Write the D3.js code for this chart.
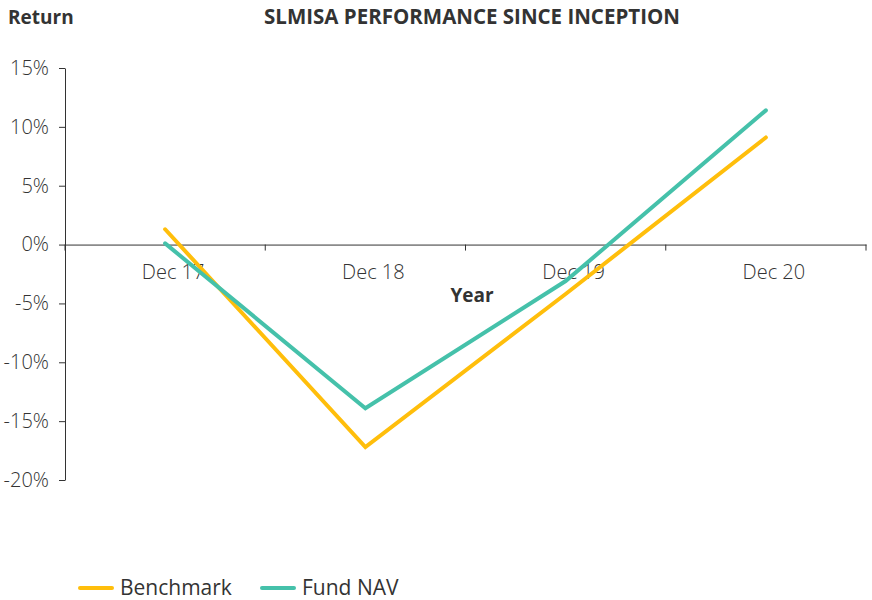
<!DOCTYPE html>
<html>
<head>
<meta charset="utf-8">
<script src="https://cdn.jsdelivr.net/npm/d3@7"></script>
<style>
body { margin: 0; background: #fff; }
text { font-family: "Open Sans", sans-serif; fill: #333; }
</style>
</head>
<body>
<div class="chart"></div>
<script>
var width = 872;
var height = 600;

// values
var years = ["Dec 17", "Dec 18", "Dec 19", "Dec 20"];
var benchmark = [1.3, -17.2, -4.2, 9.1];
var fundNav = [0.1, -13.9, -3.1, 11.4];
var yTicks = [15, 10, 5, 0, -5, -10, -15, -20];

var series = [
	{ name: "Benchmark", values: benchmark, color: "#FFBE0B" },
	{ name: "Fund NAV", values: fundNav, color: "#45C1AA" }
];

var margin = { left: 65, right: 6, top: 68, bottom: 120 };

var svg = d3.select(".chart")
	.append("svg")
	.attr("width", width)
	.attr("height", height);

var x = d3.scaleBand()
	.domain(years)
	.range([65, 866]);

var y = d3.scaleLinear()
	.domain([-20, 15])
	.range([480, 68]);

// y axis
var yAxis = svg.append("g")
	.attr("transform", "translate(" + margin.left + ",0)")
	.call(d3.axisLeft(y).tickValues(yTicks).tickSize(6).tickSizeOuter(0)
		.tickFormat(function(d) { return d + "%"; }));
yAxis.select(".domain").attr("stroke", "#333");
yAxis.selectAll(".tick line").attr("stroke", "#333");
yAxis.selectAll(".tick text")
	.attr("x", -16)
	.style("font-size", "20px")
	.style("font-weight", 300)
	.attr("fill", "#333");

// x axis on zero line
var xAxis = svg.append("g")
	.attr("transform", "translate(0," + y(0) + ")")
	.call(d3.axisBottom(x).tickSize(0).tickSizeOuter(0));
xAxis.select(".domain").attr("stroke", "#333");
xAxis.selectAll(".tick text")
	.attr("dx", 8)
	.attr("y", 20)
	.style("font-size", "20px")
	.style("font-weight", 300)
	.attr("fill", "#333");

// tick marks between categories
var bounds = years.map(function(d) { return x(d); }).concat([x.range()[1]]);
svg.selectAll(".xsep")
	.data(bounds)
	.enter()
	.append("line")
	.attr("x1", function(d) { return d; })
	.attr("x2", function(d) { return d; })
	.attr("y1", y(0))
	.attr("y2", y(0) + 6)
	.attr("stroke", "#333");

var line = d3.line()
	.x(function(d, i) { return x(years[i]) + x.bandwidth() / 2; })
	.y(function(d) { return y(d); });

svg.selectAll(".series")
	.data(series)
	.enter()
	.append("path")
	.attr("d", function(d) { return line(d.values); })
	.attr("fill", "none")
	.attr("stroke", function(d) { return d.color; })
	.attr("stroke-width", 4)
	.attr("stroke-linecap", "round")
	.attr("stroke-linejoin", "miter");

// titles
svg.append("text")
	.attr("x", 8)
	.attr("y", 24)
	.style("font-size", "19px")
	.style("font-weight", 700)
	.text("Return");

svg.append("text")
	.attr("x", 472)
	.attr("y", 24)
	.attr("text-anchor", "middle")
	.style("font-size", "20.5px")
	.style("font-weight", 700)
	.text("SLMISA PERFORMANCE SINCE INCEPTION");

svg.append("text")
	.attr("x", 472)
	.attr("y", 302)
	.attr("text-anchor", "middle")
	.style("font-size", "19px")
	.style("font-weight", 700)
	.text("Year");

// legend
var legendX = [80, 262];
var legend = svg.selectAll(".legend")
	.data(series)
	.enter()
	.append("g")
	.attr("transform", function(d, i) { return "translate(" + legendX[i] + ",588)"; });
legend.append("line")
	.attr("x1", 0)
	.attr("x2", 32)
	.attr("stroke", function(d) { return d.color; })
	.attr("stroke-width", 4)
	.attr("stroke-linecap", "round");
legend.append("text")
	.attr("x", 40)
	.attr("y", 7)
	.style("font-size", "21px")
	.text(function(d) { return d.name; });
</script>
</body>
</html>
